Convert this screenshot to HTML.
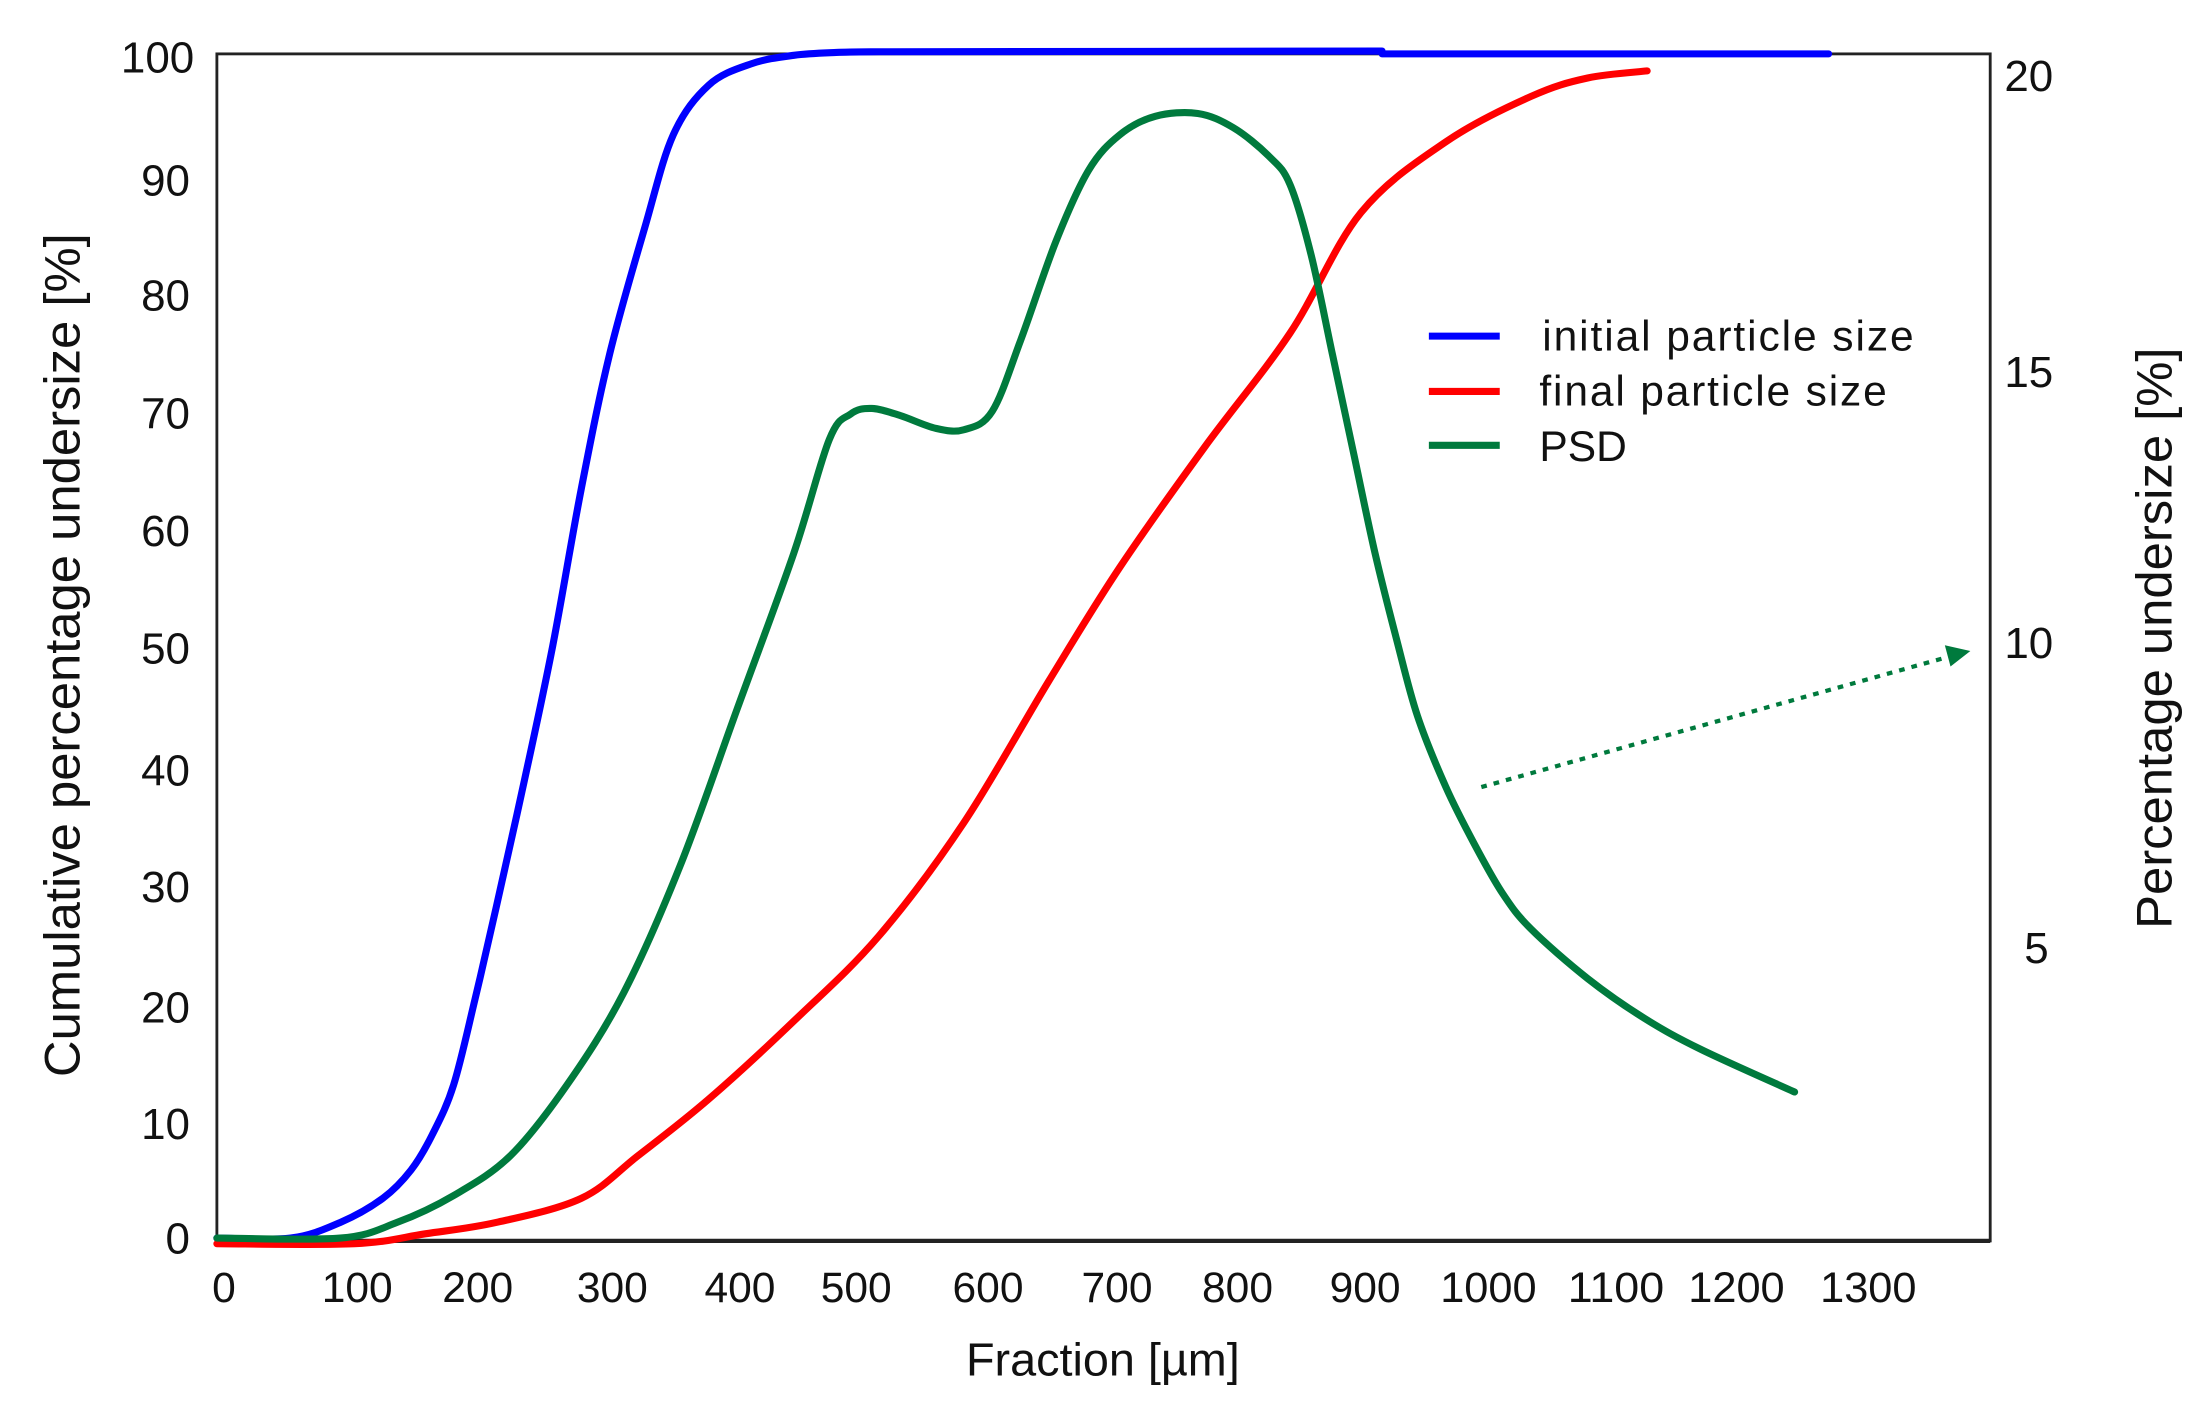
<!DOCTYPE html>
<html><head><meta charset="utf-8"><style>
html,body{margin:0;padding:0;background:#fff;}
svg{display:block;}
text{font-family:"Liberation Sans",sans-serif;fill:#111;}
</style></head><body>
<svg width="2200" height="1404" viewBox="0 0 1552 990" preserveAspectRatio="none" xmlns="http://www.w3.org/2000/svg">
<rect x="0" y="0" width="1552" height="990" fill="#fff"/>
<rect x="153" y="38" width="1251" height="837" fill="none" stroke="#222" stroke-width="2"/>
<line x1="153" y1="875" x2="1404" y2="875" stroke="#222" stroke-width="3"/>
<g font-size="31" text-anchor="end">
<text x="137" y="51">100</text><text x="134" y="138">90</text><text x="134" y="219">80</text>
<text x="134" y="302">70</text><text x="134" y="385">60</text><text x="134" y="468">50</text>
<text x="134" y="554">40</text><text x="134" y="636">30</text><text x="134" y="721">20</text>
<text x="134" y="803">10</text><text x="134" y="884">0</text>
</g>
<g font-size="30" text-anchor="middle">
<text x="158" y="918">0</text><text x="252" y="918">100</text><text x="337" y="918">200</text>
<text x="432" y="918">300</text><text x="522" y="918">400</text><text x="604" y="918">500</text>
<text x="697" y="918">600</text><text x="788" y="918">700</text><text x="873" y="918">800</text>
<text x="963" y="918">900</text><text x="1050" y="918" textLength="68" lengthAdjust="spacingAndGlyphs">1000</text><text x="1140" y="918" textLength="68" lengthAdjust="spacingAndGlyphs">1100</text>
<text x="1225" y="918" textLength="68" lengthAdjust="spacingAndGlyphs">1200</text><text x="1318" y="918" textLength="68" lengthAdjust="spacingAndGlyphs">1300</text>
</g>
<g font-size="31" text-anchor="start">
<text x="1414" y="64">20</text><text x="1414" y="273">15</text>
<text x="1414" y="464">10</text><text x="1428" y="679">5</text>
</g>
<text x="778" y="970" font-size="33" text-anchor="middle">Fraction [µm]</text>
<text transform="translate(56,462) rotate(-90)" font-size="35" text-anchor="middle" textLength="595" lengthAdjust="spacingAndGlyphs">Cumulative percentage undersize [%]</text>
<text transform="translate(1532,450) rotate(-90)" font-size="35" text-anchor="middle" textLength="410" lengthAdjust="spacingAndGlyphs">Percentage undersize [%]</text>
<g fill="none" stroke-width="5" stroke-linejoin="round" stroke-linecap="round">
<path id="pb" stroke="#0000ff" d=""/>
<path id="pr" stroke="#ff0000" d=""/>
<path id="pg" stroke="#007a3d" d=""/>
</g>
<line x1="1045" y1="555" x2="1375" y2="463" stroke="#007a3d" stroke-width="3" stroke-dasharray="4,5"/>
<polygon points="1390,459 1372,455 1376,470" fill="#007a3d"/>
<g stroke-width="5">
<line x1="1008" y1="237" x2="1058" y2="237" stroke="#0000ff"/>
<line x1="1008" y1="276" x2="1058" y2="276" stroke="#ff0000"/>
<line x1="1008" y1="314" x2="1058" y2="314" stroke="#007a3d"/>
</g>
<g font-size="30">
<text x="1088" y="247" textLength="262" lengthAdjust="spacing">initial particle size</text>
<text x="1086" y="286" textLength="245" lengthAdjust="spacing">final particle size</text>
<text x="1086" y="325">PSD</text>
</g>
</svg>
<script>
function cr(pts){
  var d="M"+pts[0][0]+","+pts[0][1];
  for(var i=0;i<pts.length-1;i++){
    var p0=pts[i-1]||pts[i],p1=pts[i],p2=pts[i+1],p3=pts[i+2]||p2;
    var c1x=p1[0]+(p2[0]-p0[0])/6,c1y=p1[1]+(p2[1]-p0[1])/6;
    var c2x=p2[0]-(p3[0]-p1[0])/6,c2y=p2[1]-(p3[1]-p1[1])/6;
    d+=" C"+c1x+","+c1y+" "+c2x+","+c2y+" "+p2[0]+","+p2[1];
  }
  return d;
}
var B=[[153,873],[205,873],[240,862],[270,845],[290,825],[305,800],[320,765],[335,705],[350,640],[370,550],[390,455],[410,345],[430,250],[455,160],[475,95],[500,60],[530,45],[560,39],[590,37],[620,36.5]];
var R=[[153,877],[250,877],[300,870],[350,862],[410,845],[450,815],[500,775],[560,720],[620,660],[680,580],[740,480],[790,400],[850,315],[910,235],[960,150],[1020,100],[1080,68],[1120,55],[1162,50]];
var G=[[153,873],[240,873],[280,862],[320,843],[360,815],[400,765],[440,700],[480,610],[520,500],[560,390],[585,310],[600,292],[615,288],[635,293],[660,302],[680,303],[700,290],[720,240],[745,170],[768,120],[790,95],[815,82],[845,80],[870,90],[895,110],[910,130],[925,180],[940,250],[955,320],[970,390],[985,450],[1000,505],[1020,555],[1040,595],[1060,630],[1080,655],[1120,690],[1160,718],[1200,740],[1266,770]];
document.getElementById("pb").setAttribute("d",cr(B)+" L975,36 L975,38 L1290,38");
document.getElementById("pr").setAttribute("d",cr(R));
document.getElementById("pg").setAttribute("d",cr(G));
</script>
</body></html>
